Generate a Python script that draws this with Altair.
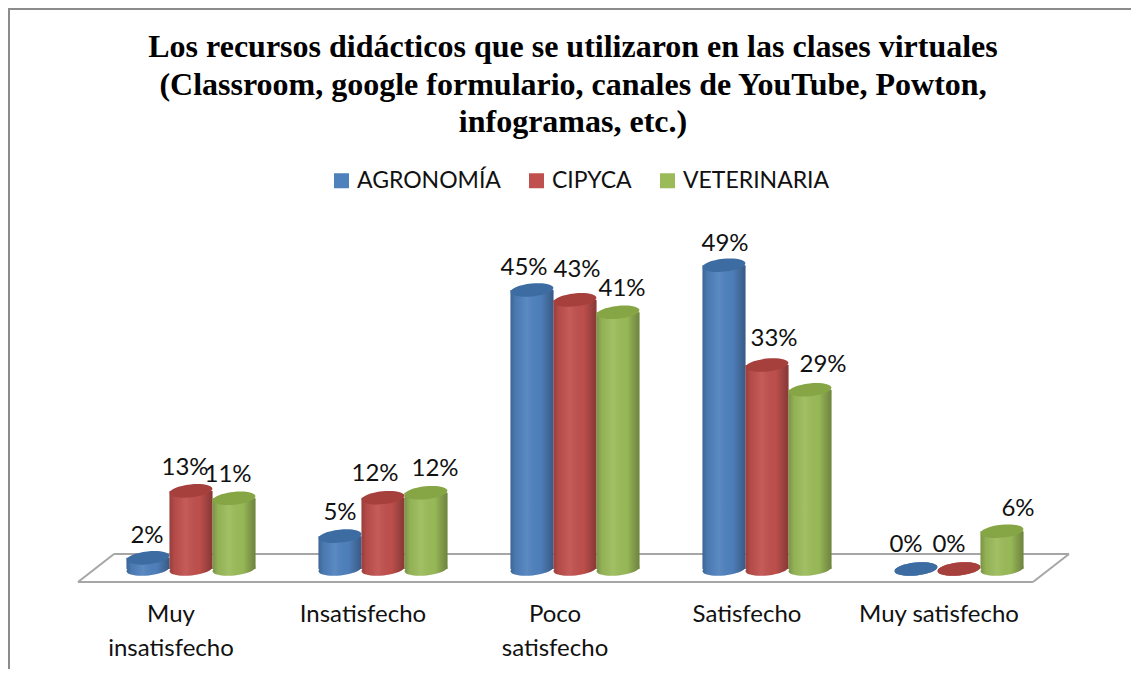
import altair as alt
import pandas as pd

categories = ["Muy insatisfecho", "Insatisfecho", "Poco satisfecho", "Satisfecho", "Muy satisfecho"]
series = ["AGRONOMÍA", "CIPYCA", "VETERINARIA"]
agronomia = [0.018, 0.053, 0.45, 0.49, 0.0]
cipyca = [0.126, 0.115, 0.434, 0.329, 0.0]
veterinaria = [0.114, 0.123, 0.414, 0.289, 0.061]
title_lines = [
    "Los recursos didácticos que se utilizaron en las clases virtuales",
    "(Classroom, google formulario, canales de YouTube, Powton,",
    "infogramas, etc.)",
]
side_colors = ["#4F81BD", "#C0504D", "#9BBB59"]
top_colors = ["#3D6CA3", "#A5403D", "#86A545"]
label_nudge = [
    (-1, -22), (-6, -23), (-6, -23),
    (0, -23), (-8, -24), (9, -24),
    (-8, -22), (2, -30), (4, -23),
    (1, -21), (7, -26), (13, -25),
    (-10, -24), (-10, -24), (16, -22),
]

rows = []
for c_i, c in enumerate(categories):
    for s_i, (s, vals) in enumerate(zip(series, [agronomia, cipyca, veterinaria])):
        rows.append({"cat": c, "serie": s, "value": vals[c_i], "zero": 0.0, "idx": c_i * 3 + s_i})
df = pd.DataFrame(rows)

FONT = "Lato"
ELLIPSE = "M-0.995,0.105 A1,0.3 -6 1,1 0.995,-0.105 A1,0.3 -6 1,1 -0.995,0.105 Z"
ESIZE = 43 * 43

x_enc = alt.X(
    "cat:N",
    sort=categories,
    scale=alt.Scale(paddingInner=0.328, paddingOuter=0.164),
    axis=alt.Axis(
        title=None, domain=False, ticks=False, labelAngle=0, labelFontSize=24, labelFont=FONT,
        labelColor="#111111", labelPadding=33, labelOffset=-20, labelLimit=0, labelLineHeight=34,
        labelBaseline="top", grid=False,
        labelExpr="split(datum.label=='Muy insatisfecho'?'Muy|insatisfecho':datum.label=='Poco satisfecho'?'Poco|satisfecho':datum.label,'|')",
    ),
)
xo_enc = alt.XOffset("serie:N", sort=series, scale=alt.Scale(paddingInner=0, paddingOuter=0))
y_enc = alt.Y("value:Q", scale=alt.Scale(domain=[0, 0.9]), axis=None)
y0_enc = alt.Y("zero:Q", scale=alt.Scale(domain=[0, 0.9]), axis=None)

sheen = {
    "gradient": "linear", "x1": 0, "x2": 1, "y1": 0, "y2": 0,
    "stops": [
        {"offset": 0, "color": "rgba(0,0,0,0.22)"},
        {"offset": 0.12, "color": "rgba(0,0,0,0.06)"},
        {"offset": 0.38, "color": "rgba(255,255,255,0.07)"},
        {"offset": 0.7, "color": "rgba(0,0,0,0.02)"},
        {"offset": 1, "color": "rgba(0,0,0,0.30)"},
    ],
}

base = alt.Chart(df)
layers = []


def seg(x1, x2, y1, y2, color="#A6A6A6", w=2):
    return alt.Chart(df.head(1)).mark_rule(color=color, strokeWidth=w).encode(
        x=alt.value(x1 - 95), x2=alt.value(x2 - 95), y=alt.value(y1 - 11), y2=alt.value(y2 - 11)
    )


# chart frame and 3D floor
layers += [
    seg(9, 9, 8, 675, "#8C8C8C"), seg(8, 1131, 9, 9, "#8C8C8C"),
    seg(114, 1069, 554, 554), seg(78, 1033, 582, 582),
    seg(78, 114, 582, 554), seg(1033, 1069, 582, 554),
]

# cylinders, one series at a time so later ones overlap earlier ones
for i, s in enumerate(series):
    d = base.transform_filter(alt.datum.serie == s)
    layers.append(d.mark_point(shape=ELLIPSE, size=ESIZE, filled=True, opacity=1, color=side_colors[i])
                  .encode(x=x_enc, xOffset=xo_enc, y=y0_enc))
    layers.append(d.mark_point(shape=ELLIPSE, size=ESIZE, filled=True, opacity=1, color=sheen)
                  .encode(x=x_enc, xOffset=xo_enc, y=y0_enc))
    layers.append(d.mark_bar(opacity=1).encode(
        x=x_enc, xOffset=xo_enc, y=y_enc, y2=alt.Y2("zero:Q"),
        color=alt.Color(
            "serie:N", sort=series, scale=alt.Scale(domain=series, range=side_colors),
            legend=alt.Legend(
                title=None, orient="none", legendX=235, legendY=158, direction="horizontal", columns=3,
                labelFont=FONT, labelFontSize=23, labelColor="#111111",
                symbolType="M-1,-1H1V1H-1Z", symbolSize=225,
                symbolStrokeWidth=0, symbolOpacity=1, columnPadding=24, labelOffset=4, labelLimit=0, padding=0,
            ),
        ),
    ))
    layers.append(d.mark_bar(color=sheen, opacity=1).encode(x=x_enc, xOffset=xo_enc, y=y_enc, y2=alt.Y2("zero:Q")))
    layers.append(d.mark_point(shape=ELLIPSE, size=ESIZE, filled=True, opacity=1, color=top_colors[i])
                  .encode(x=x_enc, xOffset=xo_enc, y=y_enc))

# value labels
for idx, (dx, dy) in enumerate(label_nudge):
    layers.append(
        base.transform_filter(alt.datum.idx == idx)
        .mark_text(font=FONT, fontSize=24, color="#111111", dx=dx, dy=dy, baseline="middle", align="center")
        .encode(x=x_enc, xOffset=xo_enc, y=y_enc, text=alt.Text("value:Q", format=".0%"))
    )

chart = (
    alt.layer(*layers)
    .properties(
        width=960, height=558,
        padding={"left": 87, "top": 3, "right": 76, "bottom": 100},
        autosize=alt.AutoSizeParams(type="none"),
        title=alt.TitleParams(
            text=title_lines, font="Liberation Serif", fontSize=32, fontWeight="bold", color="#000000",
            anchor="middle", lineHeight=37.5, baseline="top", offset=0, dy=132, dx=-2,
        ),
    )
    .configure_view(stroke=None)
    .configure_point(opacity=1)
)

chart.save("out.html", embed_options={"renderer": "svg", "actions": False})
